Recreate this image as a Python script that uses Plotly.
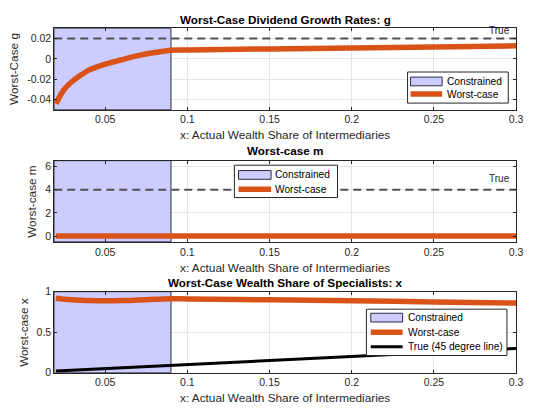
import plotly.graph_objects as go

# Grid of intermediary wealth shares
x_share = [0.02, 0.025, 0.03, 0.035, 0.04, 0.045, 0.05, 0.06, 0.07, 0.08, 0.09,
           0.1, 0.15, 0.2, 0.25, 0.3]

# Worst-case dividend growth rate g
g_worst = [-0.044, -0.030, -0.022, -0.016, -0.011, -0.0078, -0.0052, -0.0008,
           0.0032, 0.0062, 0.0085, 0.0088, 0.0098, 0.0108, 0.0118, 0.0128]
g_true = 0.02

# Worst-case m
m_worst = [0.0] * len(x_share)
m_true = 4.0

# Worst-case wealth share of specialists
xw_worst = [0.918, 0.908, 0.900, 0.894, 0.890, 0.888, 0.888, 0.891, 0.898, 0.906,
            0.912, 0.911, 0.900, 0.888, 0.874, 0.860]

# Constrained region bounds (x)
constrained = [0.019, 0.09]
x_range = [0.019, 0.3]

y_ranges = [[-0.05, 0.03], [-0.5, 6.5], [0.0, 1.0]]
y_ticks = [[-0.04, -0.02, 0, 0.02], [0, 2, 4, 6], [0, 0.5, 1]]
y_ticktext = [["-0.04", "-0.02", "0", "0.02"], ["0", "2", "4", "6"], ["0", "0.5", "1"]]
x_ticks = [0.05, 0.1, 0.15, 0.2, 0.25, 0.3]
x_ticktext = ["0.05", "0.1", "0.15", "0.2", "0.25", "0.3"]

titles = ["Worst-Case Dividend Growth Rates: g", "Worst-case m",
          "Worst-Case Wealth Share of Specialists: x"]
ylabels = ["Worst-Case g", "Worst-case m", "Worst-case x"]
xlabel = "x: Actual Wealth Share of Intermediaries"

W, H = 533, 411
FONT = "Liberation Sans, Arial, Helvetica, sans-serif"
TXT = "#262626"
ORANGE = "#D95319"
FILLC = "rgb(204,204,255)"
EDGE = "#2b2b40"

# pixel layout of the three panels (top, bottom) and horizontal extent
plot_left, plot_right = 55, 523
panels = [(23, 107), (159.3, 243), (294.3, 377.7)]
title_y = [14, 149, 285]
xlabel_y = [133, 270, 404]
ylabel_x = [14, 33, 25]


def px(x):
    return x / W


def py(y):
    return 1 - y / H


fig = go.Figure()

series = [g_worst, m_worst, xw_worst]
trues = [g_true, m_true, None]

for i in range(3):
    xa = "x" if i == 0 else f"x{i+1}"
    ya = "y" if i == 0 else f"y{i+1}"
    y0, y1 = y_ranges[i]
    # shaded constrained region
    fig.add_trace(go.Scatter(
        x=[constrained[0], constrained[1], constrained[1], constrained[0], constrained[0]],
        y=[y0, y0, y1, y1, y0],
        fill="toself", fillcolor=FILLC, mode="lines",
        line=dict(color=EDGE, width=1),
        name="Constrained", xaxis=xa, yaxis=ya, showlegend=False, hoverinfo="skip"))
    if trues[i] is not None:
        fig.add_trace(go.Scatter(
            x=x_range, y=[trues[i], trues[i]], mode="lines",
            line=dict(color="#505050", width=2, dash="8px,5px"),
            showlegend=False, xaxis=xa, yaxis=ya))
        fig.add_annotation(x=0.2975, y=trues[i], xref=xa, yref=ya,
                           text="True", showarrow=False, xanchor="right",
                           yanchor="bottom", yshift=1 if i == 0 else 4,
                           font=dict(family=FONT, size=10, color=TXT))
    fig.add_trace(go.Scatter(
        x=x_share, y=series[i], mode="lines", line_shape="spline",
        line=dict(color=ORANGE, width=5.5),
        name="Worst-case", xaxis=xa, yaxis=ya, showlegend=False))
    if i == 2:
        fig.add_trace(go.Scatter(
            x=[x_share[0], x_share[-1]], y=[x_share[0], x_share[-1]], mode="lines",
            line=dict(color="black", width=3),
            name="True (45 degree line)", xaxis=xa, yaxis=ya, showlegend=False))

    top, bot = panels[i]
    axis_common = dict(showline=True, linecolor=TXT, linewidth=1, mirror="ticks",
                       ticks="inside", ticklen=3, tickcolor=TXT,
                       showgrid=True, gridcolor="#e6e6e6", gridwidth=1,
                       zeroline=False,
                       tickfont=dict(family=FONT, size=10.5, color=TXT))
    fig.layout[("xaxis" if i == 0 else f"xaxis{i+1}")] = dict(
        domain=[px(plot_left), px(plot_right)], range=x_range,
        tickvals=x_ticks, ticktext=x_ticktext, anchor=ya, **axis_common)
    fig.layout[("yaxis" if i == 0 else f"yaxis{i+1}")] = dict(
        domain=[py(bot), py(top)], range=y_ranges[i],
        tickvals=y_ticks[i], ticktext=y_ticktext[i], anchor=xa, **axis_common)

    fig.add_annotation(x=px((plot_left + plot_right) / 2), y=py(title_y[i]),
                       xref="paper", yref="paper", text=f"<b>{titles[i]}</b>",
                       showarrow=False, xanchor="center", yanchor="middle",
                       font=dict(family=FONT, size=11.7, color="black"))
    fig.add_annotation(x=px((plot_left + plot_right) / 2), y=py(xlabel_y[i]),
                       xref="paper", yref="paper", text=xlabel,
                       showarrow=False, xanchor="center", yanchor="middle",
                       font=dict(family=FONT, size=11.8, color=TXT))
    fig.add_annotation(x=px(ylabel_x[i]), y=py((top + bot) / 2),
                       xref="paper", yref="paper", text=ylabels[i], textangle=-90,
                       showarrow=False, xanchor="center", yanchor="middle",
                       font=dict(family=FONT, size=11.8, color=TXT))

# Legend boxes: (box left, top, right, bottom), symbol x-span, text x, row centres
legend_specs = [
    dict(box=(413, 68, 515, 100), sym=(416, 448), tx=451, rows=[77.7, 90.7],
         items=["Constrained", "Worst-case"]),
    dict(box=(237.5, 164, 342, 197.3), sym=(241.7, 274.7), tx=277, rows=[174, 188.8],
         items=["Constrained", "Worst-case"]),
    dict(box=(371.3, 312.3, 513.7, 360), sym=(375.7, 408), tx=411.3, rows=[321, 336, 351],
         items=["Constrained", "Worst-case", "True (45 degree line)"]),
]
for spec in legend_specs:
    l, t, r, b = spec["box"]
    fig.add_shape(type="rect", xref="paper", yref="paper",
                  x0=px(l), x1=px(r), y0=py(b), y1=py(t),
                  fillcolor="white", line=dict(color=TXT, width=1), layer="above")
    s0, s1 = spec["sym"]
    for name, yc in zip(spec["items"], spec["rows"]):
        if name == "Constrained":
            fig.add_shape(type="rect", xref="paper", yref="paper",
                          x0=px(s0), x1=px(s1), y0=py(yc + 4.5), y1=py(yc - 4.5),
                          fillcolor=FILLC, line=dict(color=EDGE, width=1), layer="above")
        else:
            color = ORANGE if name == "Worst-case" else "black"
            width = 5.5 if name == "Worst-case" else 3
            fig.add_shape(type="line", xref="paper", yref="paper",
                          x0=px(s0), x1=px(s1), y0=py(yc), y1=py(yc),
                          line=dict(color=color, width=width), layer="above")
        fig.add_annotation(x=px(spec["tx"]), y=py(yc), xref="paper", yref="paper",
                           text=name, showarrow=False, xanchor="left", yanchor="middle",
                           font=dict(family=FONT, size=10.2, color="black"))

fig.update_layout(
    width=W, height=H, margin=dict(l=0, r=0, t=0, b=0),
    paper_bgcolor="white", plot_bgcolor="white", showlegend=False,
)

fig.write_html("out.html")
